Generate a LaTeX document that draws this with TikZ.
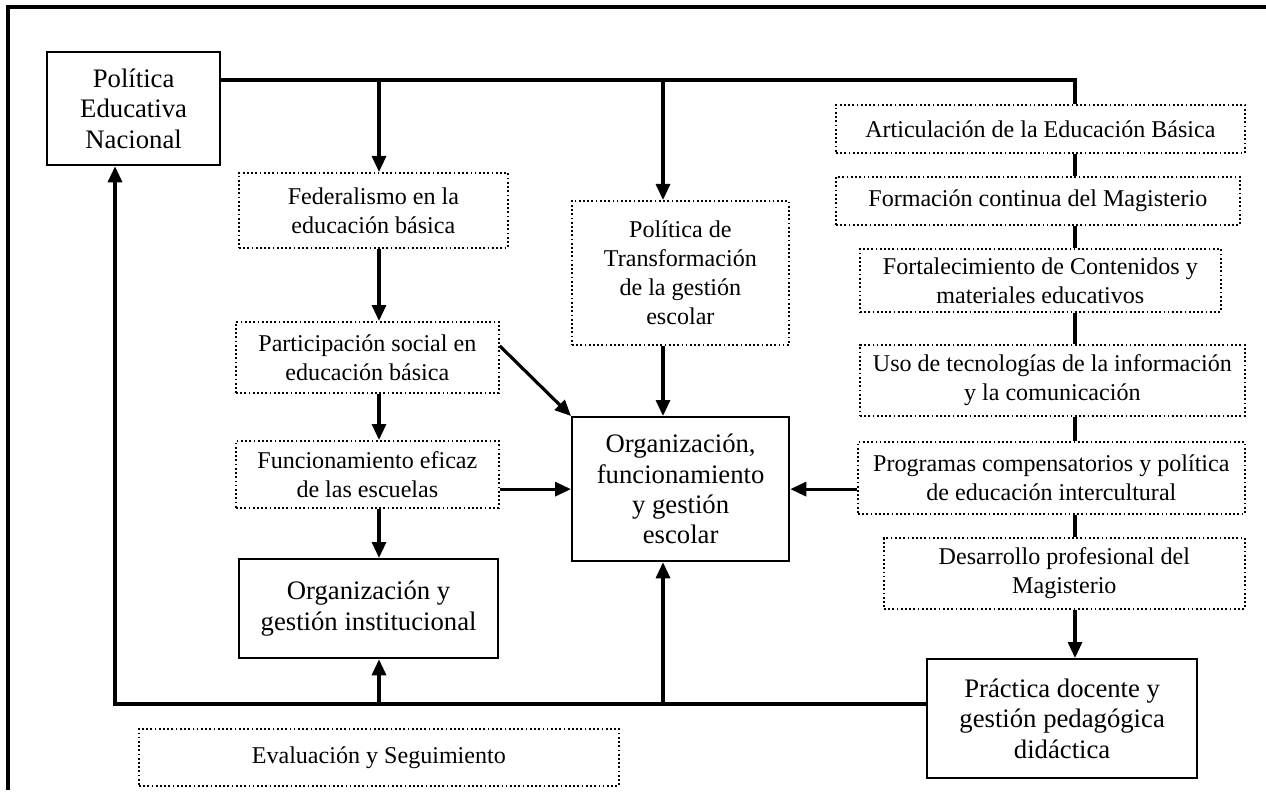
\documentclass[tikz,border=0pt]{standalone}
\usepackage{fontspec}
\setmainfont{Liberation Serif}
\usetikzlibrary{arrows.meta}
\tikzset{
  base/.style={anchor=north west, inner sep=0pt, align=center, text=black},
  solidbox/.style={base, draw, line width=1.3pt, font=\fontsize{15.2}{17.2}\selectfont},
  dotbox/.style={base, draw, line width=1pt, dash pattern=on 1pt off 1.4pt, font=\fontsize{13.7}{16.5}\selectfont},
  conn/.style={line width=1.8pt},
  arr/.style={conn, -{Triangle[length=0.32cm,width=0.28cm]}},
  frame/.style={line width=2pt}
}
\begin{document}
\begin{tikzpicture}[x=0.02cm, y=-0.02cm]
\useasboundingbox (0,0) rectangle (1266,793);
\draw[frame] (8,790) -- (8,7) -- (1266,7);

% columns and rows
\coordinate (cL) at (115,0);
\coordinate (cA) at (379,0);
\coordinate (cB) at (663,0);
\coordinate (vx) at (1075,0);
\coordinate (top) at (0,80);
\coordinate (bot) at (0,704);

% nodes
\node[solidbox, minimum width=3.46cm, minimum height=2.26cm] (pen) at (46,51) {Política\\Educativa\\Nacional};
\node[dotbox, minimum width=5.38cm, minimum height=1.5cm] (fed) at (238,172) {Federalismo en la\\educación básica};
\node[dotbox, minimum width=5.26cm, minimum height=1.42cm] (part) at (235,321) {Participación social en\\educación básica};
\node[dotbox, minimum width=5.26cm, minimum height=1.34cm] (func) at (235,440) {Funcionamiento eficaz\\de las escuelas};
\node[solidbox, minimum width=5.18cm, minimum height=1.98cm] (orginst) at (238,558) {Organización y\\gestión institucional};
\node[dotbox, minimum width=4.34cm, minimum height=2.88cm] (poltr) at (571,200) {Política de\\Transformación\\de la gestión\\escolar};
\node[solidbox, minimum width=4.34cm, minimum height=2.88cm] (orgesc) at (571,416) {Organización,\\funcionamiento\\y gestión\\escolar};
\node[dotbox, minimum width=8.18cm, minimum height=0.96cm] (artic) at (835,104) {Articulación de la Educación Básica};
\node[dotbox, minimum width=8.08cm, minimum height=0.96cm] (formac) at (835,176) {Formación continua del Magisterio};
\node[dotbox, minimum width=7.22cm, minimum height=1.26cm] (fortal) at (859,248) {Fortalecimiento de Contenidos y\\materiales educativos};
\node[dotbox, minimum width=7.7cm, minimum height=1.42cm] (uso) at (859,344) {Uso de tecnologías de la información\\y la comunicación};
\node[dotbox, minimum width=7.74cm, minimum height=1.44cm] (prog) at (857,441) {Programas compensatorios y política\\de educación intercultural};
\node[dotbox, minimum width=7.22cm, minimum height=1.42cm] (desa) at (883,537) {Desarrollo profesional del\\Magisterio};
\node[solidbox, minimum width=5.4cm, minimum height=2.38cm] (prac) at (926,658) {Práctica docente y\\gestión pedagógica\\didáctica};
\node[dotbox, minimum width=9.6cm, minimum height=1.14cm] (eval) at (138,728) {Evaluación y Seguimiento};

% top distribution line
\draw[conn] (pen.east |- top) -- (vx |- top) -- (artic.north -| vx);
\draw[arr] (cA |- top) -- (fed.north -| cA);
\draw[arr] (cB |- top) -- (poltr.north -| cB);

% left column
\draw[arr] (fed.south -| cA) -- (part.north -| cA);
\draw[arr] (part.south -| cA) -- (func.north -| cA);
\draw[arr] (func.south -| cA) -- (orginst.north -| cA);

% into central box
\draw[arr] ([yshift=0.23cm]part.east) -- (orgesc.north west);
\draw[arr] (func.east |- orgesc.west) -- (orgesc.west);
\draw[arr] (poltr.south -| cB) -- (orgesc.north -| cB);
\draw[arr] (prog.west |- orgesc.east) -- (orgesc.east);

% right column chain
\draw[conn] (artic.south -| vx) -- (formac.north -| vx);
\draw[conn] (formac.south -| vx) -- (fortal.north -| vx);
\draw[conn] (fortal.south -| vx) -- (uso.north -| vx);
\draw[conn] (uso.south -| vx) -- (prog.north -| vx);
\draw[conn] (prog.south -| vx) -- (desa.north -| vx);
\draw[arr] (desa.south -| vx) -- (prac.north -| vx);

% feedback line
\draw[arr] (prac.west |- bot) -- (cL |- bot) -- (pen.south -| cL);
\draw[arr] (cA |- bot) -- (orginst.south -| cA);
\draw[arr] (cB |- bot) -- (orgesc.south -| cB);
\end{tikzpicture}
\end{document}
